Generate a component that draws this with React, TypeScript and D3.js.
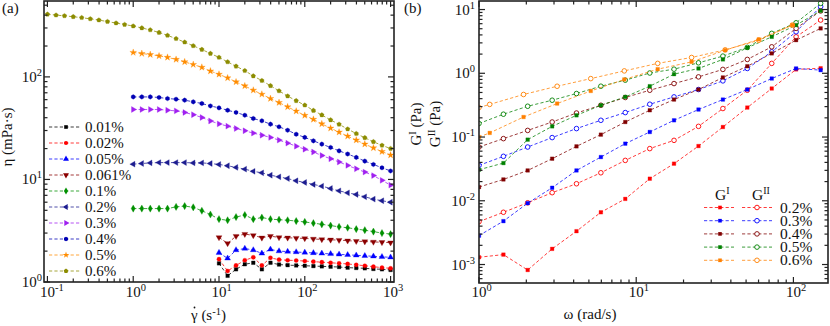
import React from "react";
import * as d3 from "d3";

// ---------- Panel (a): viscosity vs shear rate ----------
const SHEAR_RATE = [0.1, 0.126, 0.158, 0.2, 0.251, 0.316, 0.398, 0.501, 0.631, 0.794, 1, 1.26, 1.58, 2, 2.51, 3.16, 3.98, 5.01, 6.31, 7.94, 10, 12.6, 15.8, 20, 25.1, 31.6, 39.8, 50.1, 63.1, 79.4, 100, 126, 158, 200, 251, 316, 398, 501, 631, 794, 1000];

const ETA_001 = [1.52, 1.15, 1.33, 1.49, 1.54, 1.33, 1.54, 1.48, 1.46, 1.45, 1.44, 1.43, 1.42, 1.41, 1.4, 1.38, 1.37, 1.36, 1.34, 1.33, 1.31];
const ETA_002 = [1.67, 1.28, 1.45, 1.63, 1.74, 1.45, 1.72, 1.65, 1.63, 1.62, 1.6, 1.58, 1.56, 1.54, 1.52, 1.5, 1.47, 1.44, 1.41, 1.38, 1.36];
const ETA_005 = [1.93, 1.7, 2.05, 2.12, 2.05, 1.9, 2.08, 2.0, 1.98, 1.96, 1.94, 1.92, 1.9, 1.88, 1.86, 1.84, 1.82, 1.8, 1.78, 1.76, 1.74];
const ETA_0061 = [2.72, 2.38, 2.8, 2.93, 2.85, 2.7, 2.8, 2.72, 2.7, 2.68, 2.66, 2.63, 2.6, 2.58, 2.56, 2.53, 2.5, 2.48, 2.46, 2.44, 2.42];
const ETA_01 = [5.2, 5.2, 5.2, 5.2, 5.2, 5.4, 5.5, 5.35, 4.95, 4.55, 4.1, 4.0, 4.3, 4.5, 4.1, 4.25, 4.1, 4.05, 4.0, 3.93, 3.85, 3.75, 3.65, 3.55, 3.45, 3.38, 3.28, 3.2, 3.1, 3.0, 2.93];
const ETA_02 = [14.1, 14.3, 14.5, 14.6, 14.6, 14.6, 14.6, 14.5, 14.5, 14.3, 14.0, 13.6, 13.1, 12.6, 12.0, 11.6, 11.0, 10.6, 10.2, 9.7, 9.35, 8.94, 8.6, 8.17, 7.74, 7.4, 7.14, 6.77, 6.43, 6.2, 6.0];
const ETA_03 = [48.1, 48.1, 48.1, 48.1, 47.3, 46.6, 45, 42.8, 40.2, 37.2, 34.8, 33.1, 31.4, 29.8, 28.3, 27, 25.7, 24.2, 22.6, 21.1, 19.7, 18.5, 17.1, 15.9, 14.8, 13.7, 12.7, 11.8, 10.9, 9.8, 8.8];
const ETA_04 = [63.8, 63.8, 63.8, 63, 61.5, 60.6, 59.3, 57.1, 55, 52.1, 49.9, 47.3, 45, 42.3, 39.3, 37.3, 34.6, 32.6, 30.2, 27.6, 25.7, 23.8, 22.1, 20.5, 19, 17.7, 16.4, 15.1, 14, 13, 12.1];
const ETA_05 = [173, 169, 165, 160, 155, 148, 140, 132, 124, 114, 106, 97.7, 89.3, 81.6, 74.1, 67.7, 61.5, 56.2, 51, 46.3, 42.1, 38.5, 34.8, 31.6, 28.9, 26.4, 24.2, 22.1, 20.3, 18.7, 17.3];
const ETA_06 = [408, 400, 394, 386, 378, 368, 358, 346, 335, 324, 313, 300, 287, 271, 254, 236, 218, 201, 185, 169, 155, 140, 127, 115, 102, 92, 82, 73, 65, 58.5, 53, 47, 42.5, 38, 34.5, 31, 28, 25.5, 23.3, 21.5, 20];

const LEFT_LABELS = ["0.01%", "0.02%", "0.05%", "0.061%", "0.1%", "0.2%", "0.3%", "0.4%", "0.5%", "0.6%"];
const LEFT_COLORS = ["#000000", "#ff0000", "#0000ff", "#8b0000", "#009000", "#1c1c90", "#a020f0", "#0000b4", "#ff8c00", "#8c8c00"];
const LEFT_SHAPES = ["square", "circle", "triUp", "triDown", "diamond", "triLeft", "triRight", "hexagon", "star", "pentagon"];
const LEFT_VALUES = [ETA_001, ETA_002, ETA_005, ETA_0061, ETA_01, ETA_02, ETA_03, ETA_04, ETA_05, ETA_06];
const LEFT_START = [20, 20, 20, 20, 10, 10, 10, 10, 10, 0];

// ---------- Panel (b): moduli vs frequency ----------
const FREQ = [1, 1.43, 2.04, 2.92, 4.17, 5.96, 8.52, 12.2, 17.4, 24.9, 35.6, 50.9, 72.8, 104, 149];
const FREQ_06 = [1, 1.17, 1.92, 3.14, 5.14, 8.4, 13.7, 22.5, 36.8, 60.2, 98.5];

const GP_02 = [0.0013, 0.00143, 0.00082, 0.00176, 0.00333, 0.0066, 0.0107, 0.0222, 0.0382, 0.0722, 0.1436, 0.29, 0.577, 1.15, 1.2];
const GPP_02 = [0.0047, 0.0066, 0.0093, 0.0134, 0.0185, 0.0275, 0.043, 0.0658, 0.0887, 0.147, 0.28, 0.542, 1.43, 3.73, 6.84];
const GP_03 = [0.00284, 0.00479, 0.00917, 0.016, 0.0299, 0.0485, 0.0787, 0.12, 0.183, 0.27, 0.387, 0.556, 0.828, 1.19, 1.12];
const GPP_03 = [0.0359, 0.0498, 0.0697, 0.098, 0.1357, 0.183, 0.242, 0.327, 0.426, 0.556, 0.76, 1.19, 2.17, 4.48, 11.1];
const GP_04 = [0.0164, 0.0216, 0.0299, 0.0457, 0.0714, 0.109, 0.172, 0.263, 0.387, 0.556, 0.86, 1.29, 2.05, 3.31, 5.06];
const GPP_04 = [0.0697, 0.0944, 0.127, 0.172, 0.238, 0.315, 0.417, 0.542, 0.69, 0.878, 1.15, 1.65, 2.6, 5.06, 9.5];
const GP_05 = [0.0307, 0.039, 0.091, 0.147, 0.219, 0.315, 0.426, 0.627, 0.968, 1.19, 1.65, 2.51, 3.73, 5.7, 9.57];
const GPP_05 = [0.163, 0.228, 0.304, 0.378, 0.481, 0.627, 0.78, 1.01, 1.16, 1.46, 1.86, 2.55, 4.23, 6.2, 12.5];
const GP_06 = [0.1, 0.116, 0.206, 0.335, 0.528, 0.8, 1.16, 1.51, 2.3, 3.4, 5.7];
const GPP_06 = [0.29, 0.325, 0.465, 0.626, 0.825, 1.09, 1.43, 1.77, 2.33, 3.3, 5.7];

const RIGHT_LABELS = ["0.2%", "0.3%", "0.4%", "0.5%", "0.6%"];
const RIGHT_COLORS = ["#ff0000", "#0000ff", "#800000", "#008000", "#ff8000"];
const RIGHT_FREQS = [FREQ, FREQ, FREQ, FREQ, FREQ_06];
const RIGHT_GP = [GP_02, GP_03, GP_04, GP_05, GP_06];
const RIGHT_GPP = [GPP_02, GPP_03, GPP_04, GPP_05, GPP_06];

const FONT = "Liberation Serif, Times New Roman, Times, serif";
const W = 830;
const H = 326;

function polygon(n: number, r: number, rot = -Math.PI / 2) {
  const pts: string[] = [];
  for (let i = 0; i < n; i++) {
    const a = rot + (i * 2 * Math.PI) / n;
    pts.push(`${(r * Math.cos(a)).toFixed(2)},${(r * Math.sin(a)).toFixed(2)}`);
  }
  return "M" + pts.join("L") + "Z";
}

function markerPath(shape: string): { d: string; rot: number } {
  const s = 15;
  switch (shape) {
    case "square": return { d: d3.symbol(d3.symbolSquare, 13)() as string, rot: 0 };
    case "circle": return { d: d3.symbol(d3.symbolCircle, 14)() as string, rot: 0 };
    case "triUp": return { d: d3.symbol(d3.symbolTriangle, s)() as string, rot: 0 };
    case "triDown": return { d: d3.symbol(d3.symbolTriangle, s)() as string, rot: 180 };
    case "triLeft": return { d: d3.symbol(d3.symbolTriangle, s)() as string, rot: -90 };
    case "triRight": return { d: d3.symbol(d3.symbolTriangle, s)() as string, rot: 90 };
    case "diamond": return { d: d3.symbol(d3.symbolDiamond, s)() as string, rot: 0 };
    case "hexagon": return { d: polygon(6, 2.3), rot: 0 };
    case "star": return { d: d3.symbol(d3.symbolStar, 14)() as string, rot: 0 };
    case "pentagon": return { d: polygon(5, 2.4), rot: 0 };
    default: return { d: d3.symbol(d3.symbolCircle, s)() as string, rot: 0 };
  }
}

function logTicks(domain: number[]) {
  const [a, b] = domain;
  const res: { v: number; major: boolean; exp: number }[] = [];
  for (let d = Math.floor(Math.log10(a)); d <= Math.ceil(Math.log10(b)); d++) {
    for (let m = 1; m <= 9; m++) {
      const v = m * Math.pow(10, d);
      if (v >= a * 0.999 && v <= b * 1.001) res.push({ v, major: m === 1, exp: d });
    }
  }
  return res;
}

function Frame({ x, y }: { x: any; y: any }) {
  const [x0, x1] = x.range();
  const [y0, y1] = y.range();
  const xt = logTicks(x.domain());
  const yt = logTicks(y.domain());
  const col = "#222";
  const lines: any[] = [];
  xt.forEach((t, i) => {
    const L = t.major ? 6 : 3.5;
    const px = x(t.v);
    lines.push(<line key={`xb${i}`} x1={px} x2={px} y1={y0} y2={y0 - L} stroke={col} strokeWidth={1.2} />);
    lines.push(<line key={`xt${i}`} x1={px} x2={px} y1={y1} y2={y1 + L} stroke={col} strokeWidth={1.2} />);
  });
  yt.forEach((t, i) => {
    const L = t.major ? 6 : 3.5;
    const py = y(t.v);
    lines.push(<line key={`yl${i}`} x1={x0} x2={x0 + L} y1={py} y2={py} stroke={col} strokeWidth={1.2} />);
    lines.push(<line key={`yr${i}`} x1={x1} x2={x1 - L} y1={py} y2={py} stroke={col} strokeWidth={1.2} />);
  });
  return (
    <g>
      {lines}
      <rect x={x0} y={y1} width={x1 - x0} height={y0 - y1} fill="none" stroke={col} strokeWidth={1.6} />
    </g>
  );
}

function PowLabel({ x, y, exp, anchor }: { x: number; y: number; exp: number; anchor: string }) {
  return (
    <text x={x} y={y} style={{ fontFamily: FONT }} fontSize={15} textAnchor={anchor} fill="#111">
      10<tspan dy={-6} fontSize={10.5}>{exp < 0 ? `-${-exp}` : `${exp}`}</tspan>
    </text>
  );
}

function Series({ xs, ys, x, y, color, shape, open }: any) {
  const pts = xs.map((v: number, i: number) => [x(v), y(ys[i])]);
  const line = d3.line()(pts as [number, number][]) as string;
  const m = markerPath(shape);
  return (
    <g>
      <path d={line} fill="none" stroke={color} strokeWidth={0.9} strokeDasharray="3.2,2.2" opacity={0.85} />
      {pts.map((p: number[], i: number) =>
        open ? (
          <circle key={i} cx={p[0]} cy={p[1]} r={2.3} fill="white" stroke={color} strokeWidth={0.9} />
        ) : (
          <path key={i} d={m.d} transform={`translate(${p[0]},${p[1]}) rotate(${m.rot})`} fill={color} stroke={color} strokeWidth={0.3} />
        )
      )}
    </g>
  );
}

const T = { fontFamily: FONT };

export default function App() {
  const xL = d3.scaleLog().domain([Math.pow(10, -1.04), Math.pow(10, 3.04)]).range([44, 394]);
  const yL = d3.scaleLog().domain([1, Math.pow(10, 2.74)]).range([282, 1]);
  const xR = d3.scaleLog().domain([1, Math.pow(10, 2.22)]).range([479, 828]);
  const yR = d3.scaleLog().domain([Math.pow(10, -3.29), Math.pow(10, 1.134)]).range([283, 1]);

  const legendL = LEFT_LABELS.map((lab, i) => {
    const yy = 127 + i * 16;
    const m = markerPath(LEFT_SHAPES[i]);
    return (
      <g key={lab}>
        <line x1={49} x2={80} y1={yy} y2={yy} stroke={LEFT_COLORS[i]} strokeWidth={0.9} strokeDasharray="3.2,2.2" opacity={0.85} />
        <path d={m.d} transform={`translate(66,${yy}) rotate(${m.rot})`} fill={LEFT_COLORS[i]} />
        <text x={85} y={yy + 5} style={T} fontSize={15} fill="#111">{lab}</text>
      </g>
    );
  });

  const legendR = RIGHT_LABELS.map((lab, i) => {
    const yy = 207.5 + i * 13.2;
    const c = RIGHT_COLORS[i];
    const sq = markerPath("square");
    return (
      <g key={lab}>
        <line x1={704} x2={734} y1={yy} y2={yy} stroke={c} strokeWidth={0.9} strokeDasharray="3.2,2.2" opacity={0.85} />
        <path d={sq.d} transform={`translate(720,${yy})`} fill={c} />
        <line x1={742} x2={772} y1={yy} y2={yy} stroke={c} strokeWidth={0.9} strokeDasharray="3.2,2.2" opacity={0.85} />
        <circle cx={757} cy={yy} r={2.3} fill="white" stroke={c} strokeWidth={0.9} />
        <text x={780} y={yy + 5} style={T} fontSize={15.5} fill="#111">{lab}</text>
      </g>
    );
  });

  return (
    <svg width={W} height={H} style={{ position: "absolute", left: 0, top: 0, background: "white" }}>
      <defs>
        <clipPath id="clipL"><rect x={44} y={1} width={350} height={281} /></clipPath>
        <clipPath id="clipR"><rect x={479} y={1} width={349} height={282} /></clipPath>
      </defs>
      <rect x={0} y={0} width={W} height={H} fill="white" />

      {/* Panel (a) */}
      <g clipPath="url(#clipL)">
        {LEFT_VALUES.map((vals, i) => (
          <Series key={i} xs={SHEAR_RATE.slice(LEFT_START[i], LEFT_START[i] + vals.length)} ys={vals} x={xL} y={yL}
            color={LEFT_COLORS[i]} shape={LEFT_SHAPES[i]} open={false} />
        ))}
      </g>
      <Frame x={xL} y={yL} />
      {legendL}
      {[-1, 0, 1, 2, 3].map((e) => (
        <PowLabel key={`lx${e}`} x={xL(Math.pow(10, e)) - 7.5} y={297} exp={e} anchor="start" />
      ))}
      {[0, 1, 2].map((e) => (
        <PowLabel key={`ly${e}`} x={42} y={yL(Math.pow(10, e)) + 5} exp={e} anchor="end" />
      ))}
      <text x={2} y={13} style={T} fontSize={15} fill="#111">(a)</text>
      <text transform={`translate(12,137) rotate(-90)`} textAnchor="middle" style={T} fontSize={15} fill="#111">η (mPa·s)</text>
      <text x={191} y={320} style={T} fontSize={15} fill="#111">
        γ (s<tspan dy={-5} fontSize={10.5}>-1</tspan><tspan dy={5}>)</tspan>
      </text>
      <circle cx={194.5} cy={307.5} r={0.9} fill="#111" />

      {/* Panel (b) */}
      <g clipPath="url(#clipR)">
        {RIGHT_LABELS.map((lab, i) => (
          <g key={lab}>
            <Series xs={RIGHT_FREQS[i]} ys={RIGHT_GPP[i]} x={xR} y={yR} color={RIGHT_COLORS[i]} shape="circle" open={true} />
            <Series xs={RIGHT_FREQS[i]} ys={RIGHT_GP[i]} x={xR} y={yR} color={RIGHT_COLORS[i]} shape="square" open={false} />
          </g>
        ))}
      </g>
      <Frame x={xR} y={yR} />
      {legendR}
      <text x={715} y={200} style={T} fontSize={15.5} fill="#111">G<tspan dy={-6} fontSize={10}>I</tspan></text>
      <text x={752} y={200} style={T} fontSize={15.5} fill="#111">G<tspan dy={-6} fontSize={10}>II</tspan></text>
      {[0, 1, 2].map((e) => (
        <PowLabel key={`rx${e}`} x={xR(Math.pow(10, e)) - 7.5} y={297} exp={e} anchor="start" />
      ))}
      {[-3, -2, -1, 0, 1].map((e) => (
        <PowLabel key={`ry${e}`} x={475} y={yR(Math.pow(10, e)) + 5} exp={e} anchor="end" />
      ))}
      <text x={404} y={13} style={T} fontSize={15} fill="#111">(b)</text>
      <text transform={`translate(421,124) rotate(-90)`} textAnchor="middle" style={T} fontSize={15} fill="#111">
        G<tspan dy={-5} fontSize={10}>I</tspan><tspan dy={5}> (Pa)</tspan>
      </text>
      <text transform={`translate(440,124) rotate(-90)`} textAnchor="middle" style={T} fontSize={15} fill="#111">
        G<tspan dy={-5} fontSize={10}>II</tspan><tspan dy={5}> (Pa)</tspan>
      </text>
      <text x={590} y={319} textAnchor="middle" style={T} fontSize={15} fill="#111">ω (rad/s)</text>
    </svg>
  );
}
